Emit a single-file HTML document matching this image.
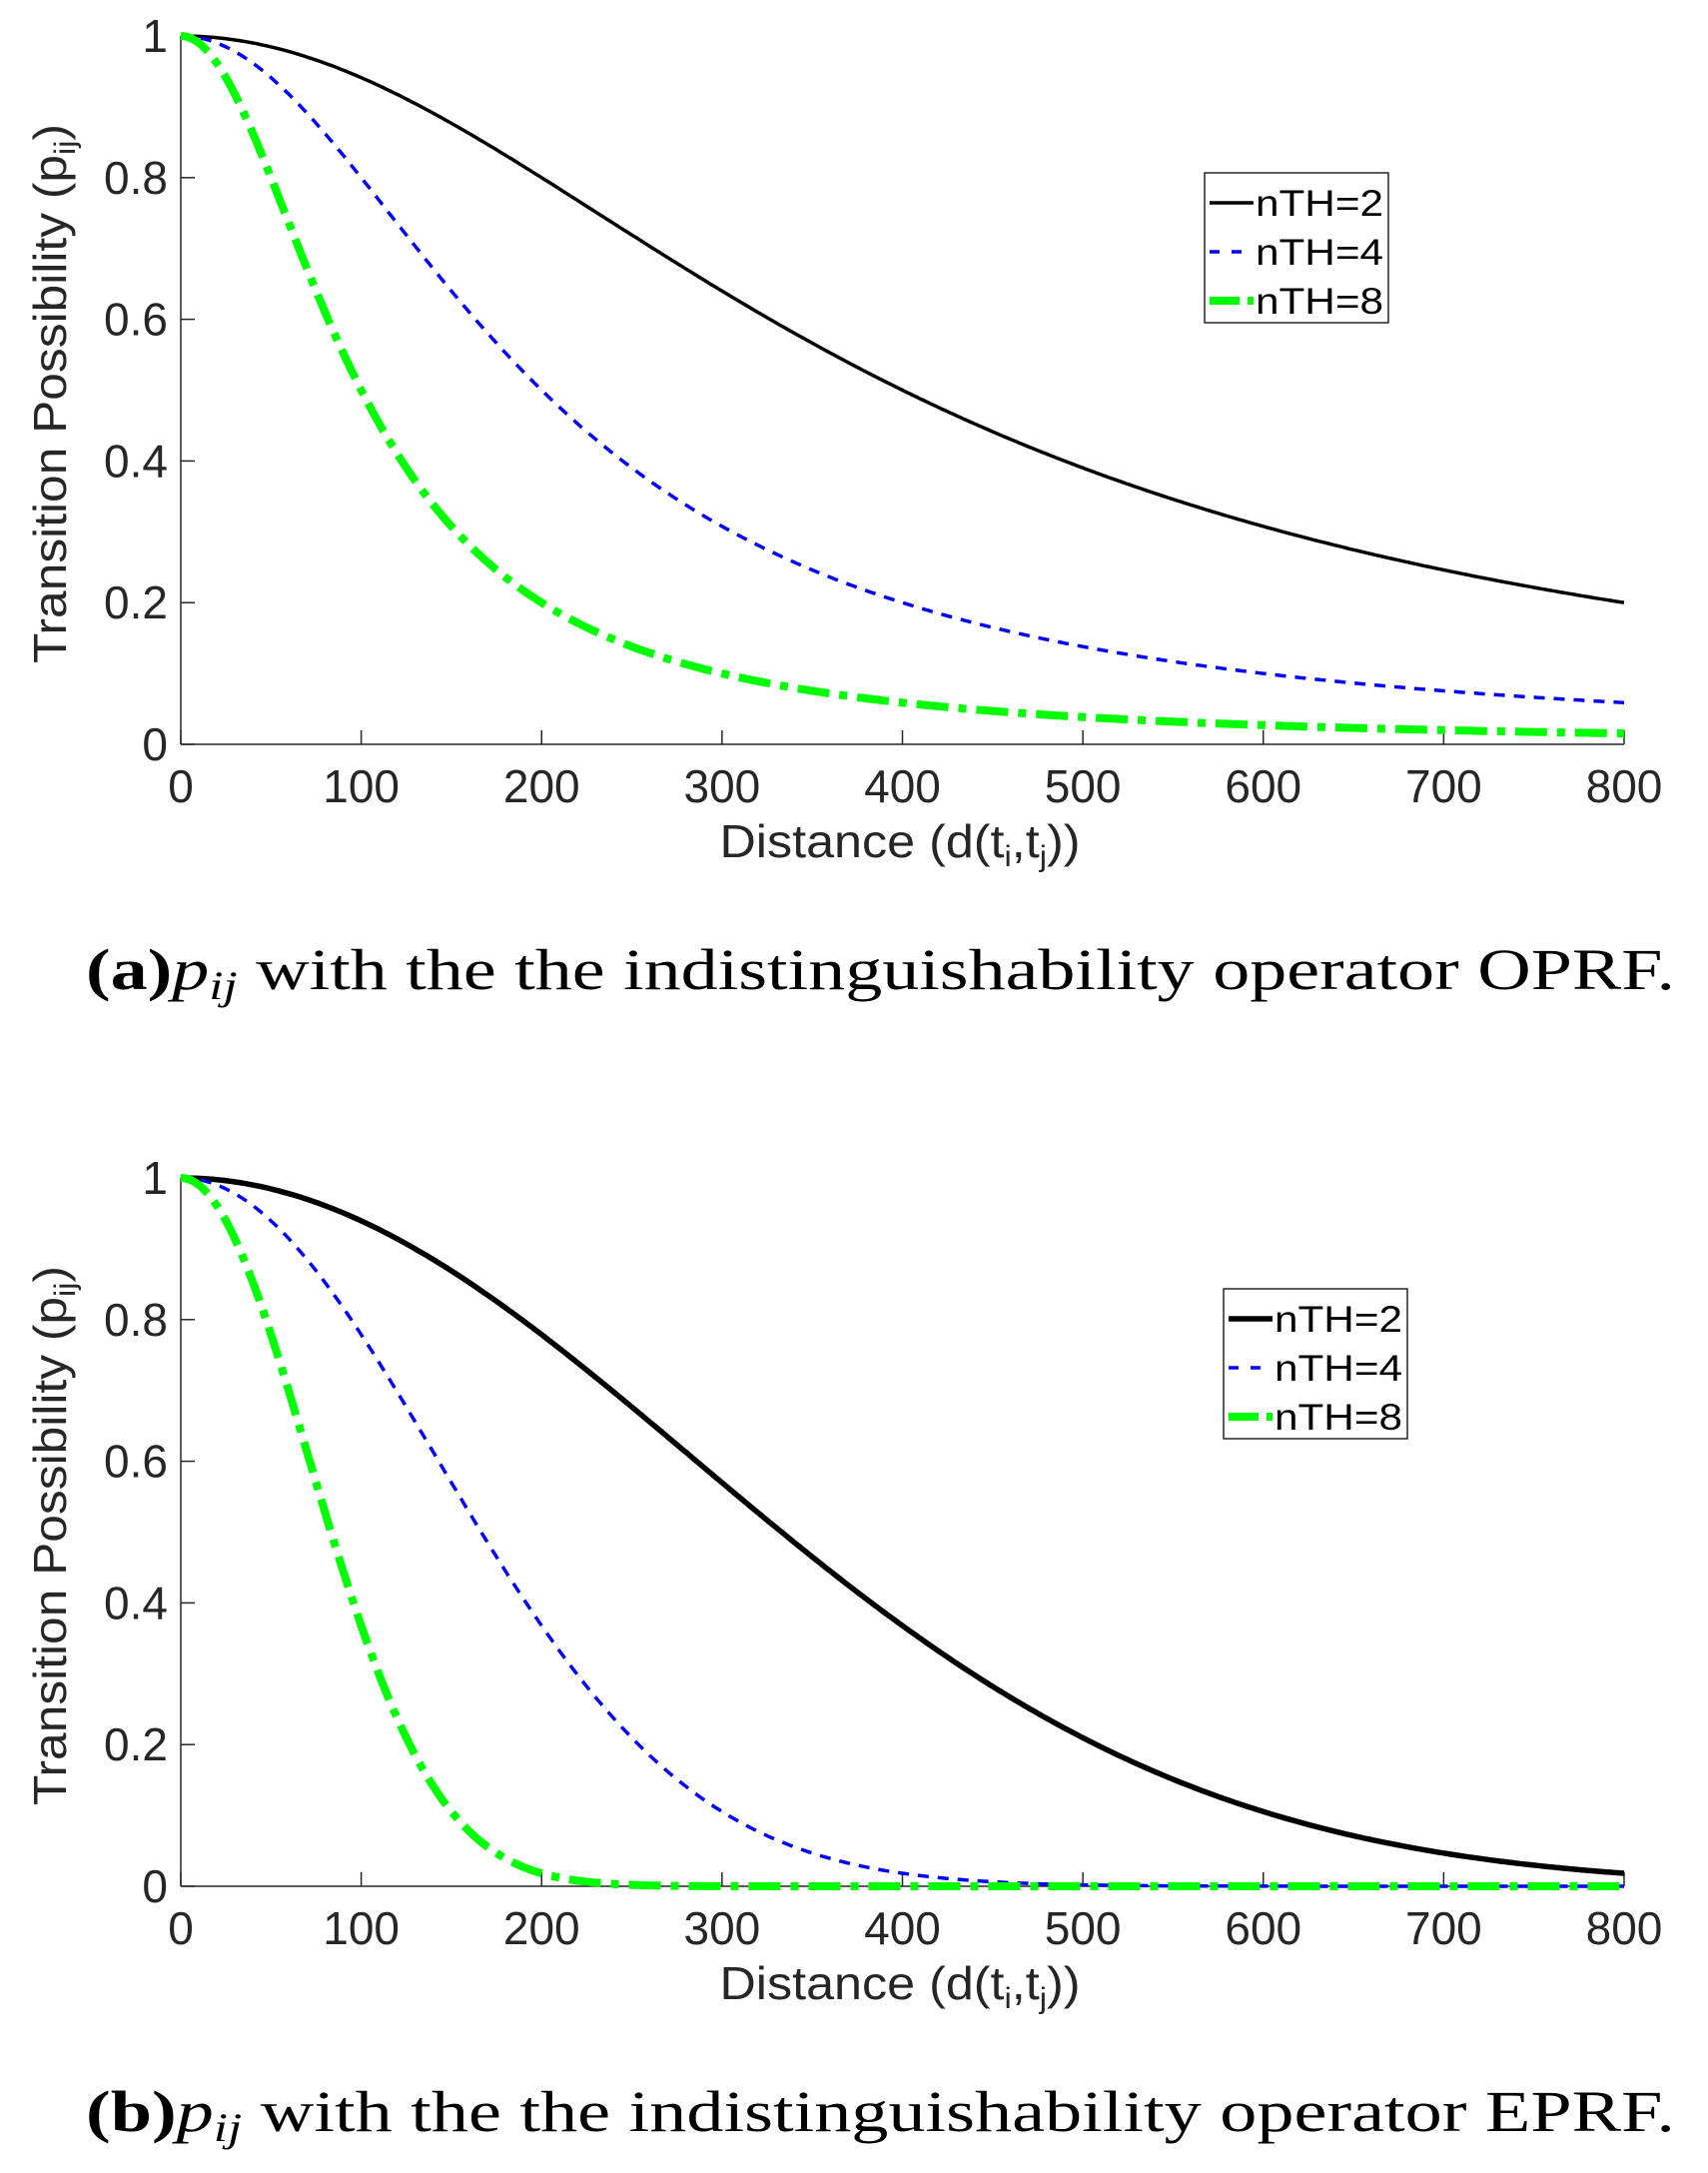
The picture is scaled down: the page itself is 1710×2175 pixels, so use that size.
<!DOCTYPE html>
<html><head><style>
html,body{margin:0;padding:0;background:#fff;}
svg{display:block;}
.t{font-family:"Liberation Sans",sans-serif;font-size:46px;fill:#262626;}
.a{font-family:"Liberation Sans",sans-serif;font-size:46px;fill:#262626;}
.l{font-family:"Liberation Sans",sans-serif;font-size:37px;fill:#000;}
.c{font-family:"Liberation Serif",serif;font-size:58px;fill:#000;}
</style></head><body>
<svg id="s" width="1710" height="2175" xmlns="http://www.w3.org/2000/svg"></svg>
<script>
const s=document.getElementById('s');let h='';
const X0=181,X1=1626;
function panel(top,bot,type,bw,leg,cap,capy){
  const sx=d=>X0+(X1-X0)*d/800, sy=v=>bot-(bot-top)*v;
  h+=`<line x1="${X0}" y1="${top}" x2="${X0}" y2="${bot}" stroke="#262626" stroke-width="1.5"/>`;
  h+=`<line x1="${X0}" y1="${bot}" x2="${X1}" y2="${bot}" stroke="#262626" stroke-width="1.5"/>`;
  for(let i=0;i<=8;i++){const x=sx(i*100);h+=`<line x1="${x}" y1="${bot}" x2="${x}" y2="${bot-14}" stroke="#262626" stroke-width="1.5"/>`;
    h+=`<text class="t" x="${x}" y="${bot+58}" text-anchor="middle">${i*100}</text>`;}
  for(let i=0;i<=5;i++){const v=i/5,y=sy(v);h+=`<line x1="${X0}" y1="${y}" x2="${X0+14}" y2="${y}" stroke="#262626" stroke-width="1.5"/>`;
    h+=`<text class="t" x="168" y="${y+16}" text-anchor="end">${i==5?'1':(i==0?'0':v.toFixed(1))}</text>`;}
  const f=(d,sc)=>type==0?1/(1+(d/sc)**2):Math.exp(-((d/sc)**2));
  const ser=[[400,'#000',bw,''],[200,'#0000ff',3.5,'11 9'],[100,'#00ff00',8,'32 10 8 10']];
  for(const [sc,col,w,da] of ser){let p='';for(let d=0;d<=800;d+=2)p+=(d?'L':'M')+sx(d).toFixed(1)+' '+sy(f(d,sc)).toFixed(1);
    h+=`<path d="${p}" fill="none" stroke="${col}" stroke-width="${w}" ${da?`stroke-dasharray="${da}"`:''}/>`;}
  const [lx,ly]=leg;
  h+=`<rect x="${lx}" y="${ly}" width="184" height="150" fill="#fff" stroke="#262626" stroke-width="1.5"/>`;
  const labs=['nTH=2','nTH=4','nTH=8'];
  for(let i=0;i<3;i++){const y=ly+30+i*49;const [,col,w,da]=ser[i];
    h+=`<line x1="${lx+5}" y1="${y}" x2="${lx+49}" y2="${y}" stroke="${col}" stroke-width="${w}" ${da?`stroke-dasharray="${i==1?'10 12':'30 8 10 8'}"`:''}/>`;
    h+=`<text class="l" x="${lx+51}" y="${y+13}" textLength="128" lengthAdjust="spacingAndGlyphs">${labs[i]}</text>`;}
  const yc=top+358;
  h+=`<text class="a" transform="translate(66,${yc}) rotate(-90)" text-anchor="middle" textLength="540" lengthAdjust="spacingAndGlyphs">Transition Possibility (p<tspan font-size="30" dy="9">ij</tspan><tspan dy="-9">)</tspan></text>`;
  h+=`<text class="a" x="901" y="${bot+113}" text-anchor="middle" textLength="361" lengthAdjust="spacingAndGlyphs">Distance (d(t<tspan font-size="30" dy="9">i</tspan><tspan dy="-9">,t</tspan><tspan font-size="30" dy="9">j</tspan><tspan dy="-9">))</tspan></text>`;
  h+=`<text class="c" x="86" y="${capy}" textLength="1591" lengthAdjust="spacingAndGlyphs"><tspan font-weight="bold">(${cap[0]})</tspan><tspan font-style="italic">p</tspan><tspan font-style="italic" font-size="40" dy="10">ij</tspan><tspan dy="-10"> with the the indistinguishability operator ${cap[1]}.</tspan></text>`;
}
panel(36,745,0,3.5,[1206,173],['a','OPRF'],990);
panel(1179,1888,1,5.5,[1225,1290],['b','EPRF'],2133);
s.innerHTML=h;
</script>
</body></html>
